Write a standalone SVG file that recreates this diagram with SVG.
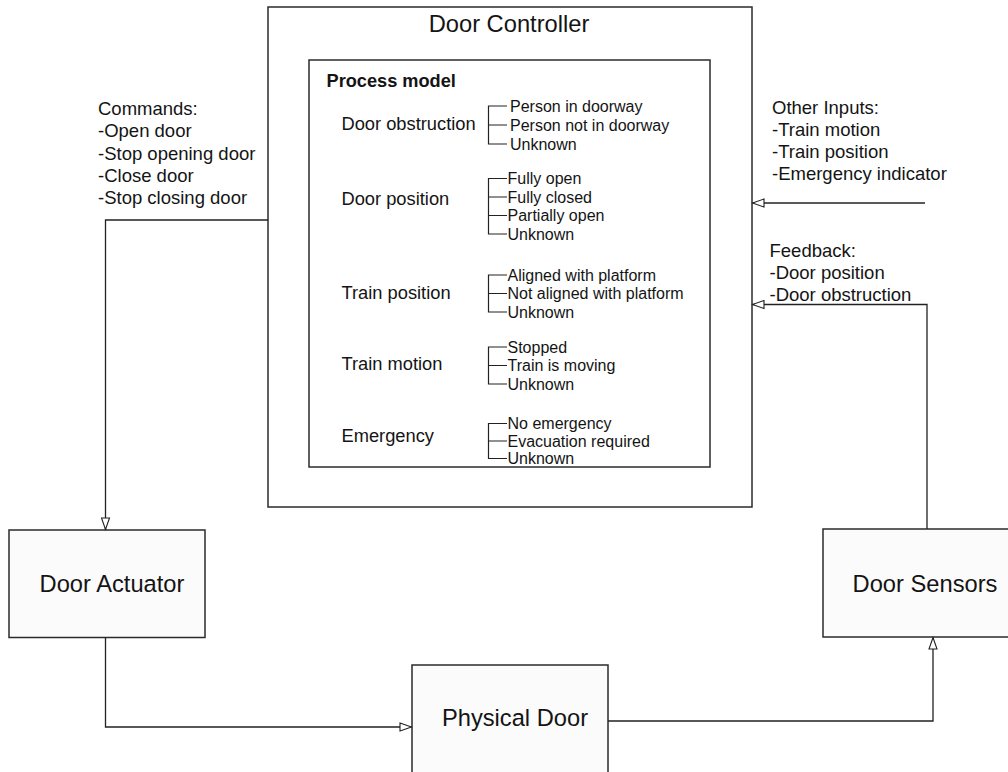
<svg xmlns="http://www.w3.org/2000/svg" width="1008" height="772" viewBox="0 0 1008 772">
  <defs>
    <marker id="open-arrow" markerWidth="14" markerHeight="10" refX="12.5" refY="5" orient="auto" markerUnits="userSpaceOnUse">
      <path d="M1,1 L12.5,5 L1,9 Z" fill="#fff" stroke="#222" stroke-width="1.1"/>
    </marker>
    <style>
      .box{fill:#fbfbfb;stroke:#2b2b2b;stroke-width:1.5}
      .frame{fill:#fff;stroke:#2b2b2b;stroke-width:1.5}
      .t{font-family:"Liberation Sans",Arial,Helvetica,sans-serif;fill:#141414}
      .big{font-size:23.7px}
      .lbl{font-size:18.5px}
      .var{font-size:18.3px}
      .item{font-size:16px}
      .bold{font-size:18.2px;font-weight:bold}
      .mid{text-anchor:middle}
      .wire{fill:none;stroke:#222;stroke-width:1.3}
      .tick{fill:none;stroke:#222;stroke-width:1.2}
    </style>
  </defs>

  <rect x="0" y="0" width="1008" height="772" fill="#fff"/>

  <!-- controller with its process model -->
  <g id="door-controller">
    <rect class="frame" x="268" y="7" width="484" height="500"/>
    <text class="t big mid" x="509" y="31.5">Door Controller</text>
    <g id="process-model">
      <rect class="frame" x="309" y="60" width="401" height="407"/>
      <text class="t bold" x="326.5" y="86.5">Process model</text>

      <g id="var-door-obstruction">
        <text class="t var" x="341.5" y="130">Door obstruction</text>
        <path class="tick" d="M507,106 H488.5 V144 H507 M488.5,125 H507"/>
        <text class="t item" x="510" y="111.5">Person in doorway</text>
        <text class="t item" x="510" y="130.5">Person not in doorway</text>
        <text class="t item" x="510" y="149.5">Unknown</text>
      </g>

      <g id="var-door-position">
        <text class="t var" x="341.5" y="205">Door position</text>
        <path class="tick" d="M507,178.5 H488.5 V234 H507 M488.5,197 H507 M488.5,215.5 H507"/>
        <text class="t item" x="507.5" y="184">Fully open</text>
        <text class="t item" x="507.5" y="202.5">Fully closed</text>
        <text class="t item" x="507.5" y="221">Partially open</text>
        <text class="t item" x="507.5" y="239.5">Unknown</text>
      </g>

      <g id="var-train-position">
        <text class="t var" x="341.5" y="298.5">Train position</text>
        <path class="tick" d="M507,275 H488.5 V312 H507 M488.5,293.5 H507"/>
        <text class="t item" x="507.5" y="280.5">Aligned with platform</text>
        <text class="t item" x="507.5" y="299">Not aligned with platform</text>
        <text class="t item" x="507.5" y="317.5">Unknown</text>
      </g>

      <g id="var-train-motion">
        <text class="t var" x="341.5" y="370">Train motion</text>
        <path class="tick" d="M507,347 H488.5 V384 H507 M488.5,365.5 H507"/>
        <text class="t item" x="507.5" y="352.5">Stopped</text>
        <text class="t item" x="507.5" y="371">Train is moving</text>
        <text class="t item" x="507.5" y="389.5">Unknown</text>
      </g>

      <g id="var-emergency">
        <text class="t var" x="341.5" y="442">Emergency</text>
        <path class="tick" d="M507,423.5 H488.5 V458.5 H507 M488.5,441 H507"/>
        <text class="t item" x="507.5" y="429">No emergency</text>
        <text class="t item" x="507.5" y="446.5">Evacuation required</text>
        <text class="t item" x="507.5" y="464">Unknown</text>
      </g>
    </g>
  </g>

  <g id="door-actuator">
    <rect class="box" x="9" y="530" width="196" height="107.5"/>
    <text class="t big mid" x="112" y="592">Door Actuator</text>
  </g>

  <g id="physical-door">
    <rect class="box" x="412" y="665" width="196" height="110"/>
    <text class="t big mid" x="515" y="725.5">Physical Door</text>
  </g>

  <g id="door-sensors">
    <rect class="box" x="823" y="529" width="200" height="108"/>
    <text class="t big mid" x="925" y="592">Door Sensors</text>
  </g>

  <!-- control loop connectors -->
  <g id="connectors">
    <path class="wire" d="M268,220 H105.5 V529.5" marker-end="url(#open-arrow)"/>
    <path class="wire" d="M105.5,637.5 V727 H411.5" marker-end="url(#open-arrow)"/>
    <path class="wire" d="M608,721 H933 V637.5" marker-end="url(#open-arrow)"/>
    <path class="wire" d="M927,529 V304.5 H752.5" marker-end="url(#open-arrow)"/>
    <path class="wire" d="M925,203 H752.5" marker-end="url(#open-arrow)"/>
  </g>

  <g id="connector-labels">
    <text class="t lbl" x="98" y="115">
      <tspan x="98" y="115">Commands:</tspan>
      <tspan x="98" y="137.3">-Open door</tspan>
      <tspan x="98" y="159.6">-Stop opening door</tspan>
      <tspan x="98" y="181.9">-Close door</tspan>
      <tspan x="98" y="204.2">-Stop closing door</tspan>
    </text>
    <text class="t lbl" x="772" y="113.5">
      <tspan x="772" y="113.5">Other Inputs:</tspan>
      <tspan x="772" y="135.8">-Train motion</tspan>
      <tspan x="772" y="158.1">-Train position</tspan>
      <tspan x="772" y="180.4">-Emergency indicator</tspan>
    </text>
    <text class="t lbl" x="769.5" y="256.5">
      <tspan x="769.5" y="256.5">Feedback:</tspan>
      <tspan x="769.5" y="278.8">-Door position</tspan>
      <tspan x="769.5" y="301.1">-Door obstruction</tspan>
    </text>
  </g>
</svg>
